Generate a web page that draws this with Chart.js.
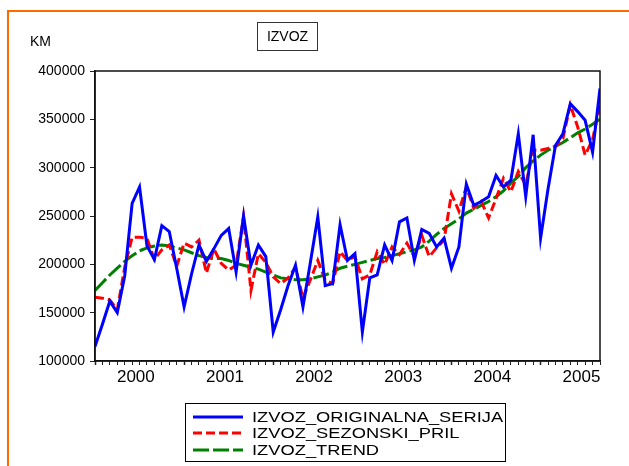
<!DOCTYPE html>
<html><head><meta charset="utf-8">
<script src="https://cdn.jsdelivr.net/npm/chart.js@4/dist/chart.umd.min.js"></script>
<style>
html,body{margin:0;padding:0;background:#fff;}
#wrap{position:relative;width:629px;height:466px;overflow:hidden;background:#fff;}
canvas{position:absolute;left:0;top:0;}
.frame{position:absolute;left:7px;top:10px;width:800px;height:600px;border-left:2px solid #ff6a00;border-top:2px solid #ff6a00;pointer-events:none;}
#km{position:absolute;left:30px;top:33px;font:14px "Liberation Sans",Arial,sans-serif;color:#000;}
#title{position:absolute;left:257px;top:22px;width:59px;height:27px;border:1px solid #333;font:14px "Liberation Sans",Arial,sans-serif;text-align:center;line-height:27px;color:#000;}
</style></head>
<body>
<div id="wrap">
<canvas id="c" width="629" height="466"></canvas>
<div class="frame"></div>
<div id="km">KM</div>
<div id="title">IZVOZ</div>
</div>
<script>
const firstYear = 2000;
const yearLabels = ['2000','2001','2002','2003','2004','2005'];
const yTicks = [100000,150000,200000,250000,300000,350000,400000];

const original = [
115000,138000,162000,150000,188000,263000,280000,219000,205000,240000,234000,196000,
156000,190000,220000,203000,216000,230000,237000,192000,250000,199000,220000,208000,
130000,153000,178000,199000,156000,202000,249000,178000,180000,241000,204000,211000,
130000,186000,189000,220000,204000,244000,248000,204000,236000,232000,218000,227000,
196000,218000,283000,261000,265000,270000,292000,280000,287000,335000,270000,334000,
227000,278000,323000,335000,366000,358000,349000,316000,382000];

const seasonal = [
166000,165000,163000,153000,197000,228000,228000,227000,205000,215000,220000,198000,
222000,218000,225000,191000,216000,201000,194000,199000,249000,173000,211000,202000,
187000,180000,186000,197000,165000,184000,204000,184000,180000,213000,204000,208000,
185000,189000,213000,200000,218000,210000,222000,208000,230000,208000,217000,225000,
273000,255000,280000,258000,265000,248000,268000,289000,275000,296000,282000,318000,
318000,320000,322000,330000,365000,342000,313000,329000,365000];

const trend = [
173000,181000,189000,196000,203000,209000,214000,217000,219000,220000,219000,217000,
215000,212000,209000,207000,206000,206000,204000,201000,199000,197000,195000,192000,
189000,186000,185000,184000,184000,185000,187000,189000,192000,196000,198000,200000,
202000,204000,206000,207000,209000,211000,213000,215000,218000,224000,231000,237000,
242000,247000,253000,257000,261000,265000,270000,276000,284000,291000,300000,307000,
313000,318000,322000,326000,331000,336000,340000,345000,350000];

const seriesNames = ['IZVOZ_ORIGINALNA_SERIJA','IZVOZ_SEZONSKI_PRIL','IZVOZ_TREND'];

const lastIndex = original.length - 1;
const toXY = arr => arr.map((v,i)=>({x:i,y:v}));

// tick values: every month (marks) + mid-year positions (labels)
const xTickValues = [];
for (let i=0;i<=lastIndex;i++) xTickValues.push(i);
yearLabels.forEach((y,k)=>xTickValues.push(k*12+5.5));
xTickValues.sort((a,b)=>a-b);

const decor = {
  id:'decor',
  afterDatasetsDraw(chart){
    const {ctx, chartArea:a} = chart;
    ctx.save();
    ctx.strokeStyle='#111'; ctx.lineWidth=1.5;
    ctx.strokeRect(a.left, a.top, a.right-a.left, a.bottom-a.top);
    ctx.restore();
  },
  afterDraw(chart){
    const ctx = chart.ctx;
    ctx.save();
    ctx.strokeStyle='#000'; ctx.lineWidth=1;
    ctx.strokeRect(185.5,403.5,320,58);
    const rows=[417,433,450];
    chart.data.datasets.forEach((ds,i)=>{
      const y=rows[i];
      ctx.beginPath();
      ctx.setLineDash(ds.borderDash||[]);
      ctx.lineWidth=3; ctx.strokeStyle=ds.borderColor;
      ctx.moveTo(193,y); ctx.lineTo(243,y); ctx.stroke();
      ctx.setLineDash([]);
      ctx.save();
      ctx.font='15px "Liberation Sans", Arial, sans-serif';
      ctx.fillStyle='#000'; ctx.textBaseline='middle';
      ctx.translate(252,y+1); ctx.scale(1.22,1);
      ctx.fillText(ds.label,0,0);
      ctx.restore();
    });
    ctx.restore();
  }
};

new Chart(document.getElementById('c'),{
  type:'line',
  data:{datasets:[
    {label:seriesNames[0],data:toXY(original),borderColor:'#0000ff',borderWidth:3,pointRadius:0,tension:0,fill:false},
    {label:seriesNames[1],data:toXY(seasonal),borderColor:'#ff0000',borderWidth:3,borderDash:[9,4],pointRadius:0,tension:0,fill:false},
    {label:seriesNames[2],data:toXY(trend),borderColor:'#008000',borderWidth:3,borderDash:[16,4],pointRadius:0,tension:0,fill:false}
  ]},
  options:{
    responsive:false, animation:false, devicePixelRatio:1,
    layout:{padding:{left:0,top:71,right:29,bottom:75}},
    plugins:{legend:{display:false},tooltip:{enabled:false},title:{display:false}},
    scales:{
      x:{type:'linear',min:0,max:lastIndex,
        afterBuildTicks:s=>{s.ticks=xTickValues.map(v=>({value:v}));},
        afterFit:s=>{s.height=30;},
        ticks:{autoSkip:false,maxRotation:0,minRotation:0,padding:2,color:'#000',
          font:{family:'"Liberation Sans", Arial, sans-serif',size:17},
          callback:v=>(v%1!==0)?yearLabels[Math.floor(v/12)]:''},
        grid:{drawOnChartArea:false,tickLength:4,
          tickColor:c=>(c.tick && c.tick.value%1!==0)?'rgba(0,0,0,0)':'#222',
          tickWidth:c=>(c.tick && c.tick.value%12===0)?1.5:1},
        border:{color:'#111',width:1.5}
      },
      y:{min:100000,max:400000,
        afterBuildTicks:s=>{s.ticks=yTicks.map(v=>({value:v}));},
        afterFit:s=>{s.width=95;},
        ticks:{color:'#000',padding:5,font:{family:'"Liberation Sans", Arial, sans-serif',size:14},callback:v=>String(v)},
        grid:{drawOnChartArea:false,tickLength:5,tickColor:'#222'},
        border:{color:'#111',width:1.5}
      }
    }
  },
  plugins:[decor]
});
</script>
</body></html>
